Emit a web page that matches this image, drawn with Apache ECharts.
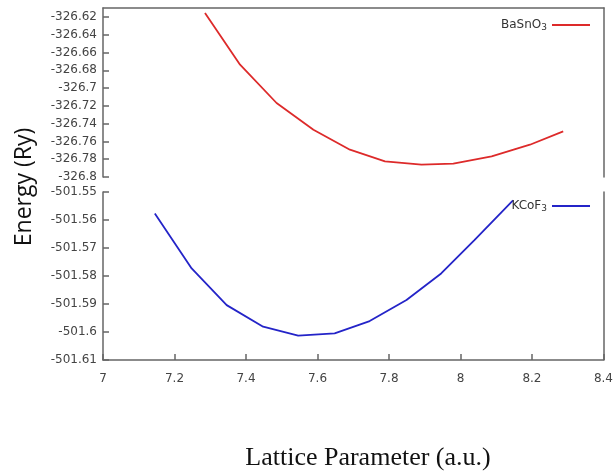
<!DOCTYPE html>
<html>
<head>
<meta charset="utf-8">
<script src="https://cdn.jsdelivr.net/npm/echarts@6/dist/echarts.min.js"></script>
<style>
  html, body { margin: 0; padding: 0; background: #fff; }
  #chart { width: 616px; height: 473px; }
</style>
</head>
<body>
<div id="chart"></div>
<script>
// data
const latticeBa = [7.285, 7.383, 7.485, 7.588, 7.690, 7.788, 7.890, 7.979, 8.086, 8.193, 8.286];
const energyBa = [-326.6155, -326.6737, -326.7168, -326.7468, -326.7693, -326.7825, -326.7862, -326.7850, -326.7768, -326.7637, -326.7487];
const latticeK = [7.145, 7.248, 7.346, 7.448, 7.546, 7.648, 7.746, 7.849, 7.946, 8.039, 8.147];
const energyK = [-501.5577, -501.5773, -501.5904, -501.5981, -501.6013, -501.6005, -501.5961, -501.5886, -501.5791, -501.5672, -501.5530];

// axis ranges
const xRange = [7, 8.4, 0.2];
const yTopRange = [-326.8, -326.61, 0.02];
const yBottomRange = [-501.61, -501.55, 0.01];

const chart = echarts.init(document.getElementById('chart'), null, { renderer: 'canvas' });

const labelFont = { color: '#444', fontFamily: 'DejaVu Sans', fontSize: 12 };
const frameLine = { show: true, lineStyle: { color: '#666', width: 1.5 } };
const tickStyle = { inside: true, length: 6, lineStyle: { color: '#666', width: 1.5 } };

// a line series fed from two arrays
function pairs(xs, ys) {
  return xs.map((x, i) => [x, ys[i]]);
}

function legendFor(name, base, top) {
  return {
    data: [name], right: 26, top: top, align: 'right', padding: 0,
    icon: 'rect', itemWidth: 38, itemHeight: 2,
    formatter: () => '{a|' + base + '}{b|3}',
    textStyle: {
      rich: {
        a: { fontFamily: 'DejaVu Sans', fontSize: 12, color: '#333' },
        b: { fontFamily: 'DejaVu Sans', fontSize: 9, color: '#333', padding: [6, 0, 0, 0] }
      }
    }
  };
}

const option = {
  animation: false,
  backgroundColor: '#fff',
  grid: [
    { left: 103, right: 12, top: 8, height: 169 },
    { left: 103, right: 12, top: 192, height: 168 }
  ],
  xAxis: [
    {
      gridIndex: 0, type: 'value', position: 'top',
      min: xRange[0], max: xRange[1], interval: xRange[2],
      axisLine: frameLine, axisTick: { show: false }, axisLabel: { show: false },
      splitLine: { show: false }
    },
    {
      gridIndex: 1, type: 'value',
      min: xRange[0], max: xRange[1], interval: xRange[2],
      axisLine: frameLine, axisTick: tickStyle,
      axisLabel: Object.assign({ margin: 13 }, labelFont),
      splitLine: { show: false }
    }
  ],
  yAxis: [
    {
      gridIndex: 0, type: 'value',
      min: yTopRange[0], max: yTopRange[1], interval: yTopRange[2],
      axisLine: frameLine, axisTick: tickStyle,
      axisLabel: Object.assign({ margin: 6, showMaxLabel: false }, labelFont),
      splitLine: { show: false }
    },
    {
      gridIndex: 1, type: 'value',
      min: yBottomRange[0], max: yBottomRange[1], interval: yBottomRange[2],
      axisLine: frameLine, axisTick: tickStyle,
      axisLabel: Object.assign({ margin: 6 }, labelFont),
      splitLine: { show: false }
    },
    // right-hand frame lines
    {
      gridIndex: 0, type: 'value', position: 'right',
      min: yTopRange[0], max: yTopRange[1],
      axisLine: frameLine, axisTick: { show: false }, axisLabel: { show: false },
      splitLine: { show: false }
    },
    {
      gridIndex: 1, type: 'value', position: 'right',
      min: yBottomRange[0], max: yBottomRange[1],
      axisLine: frameLine, axisTick: { show: false }, axisLabel: { show: false },
      splitLine: { show: false }
    }
  ],
  legend: [
    legendFor('BaSnO3', 'BaSnO', 19),
    legendFor('KCoF3', 'KCoF', 200)
  ],
  series: [
    {
      name: 'BaSnO3', type: 'line', xAxisIndex: 0, yAxisIndex: 0,
      data: pairs(latticeBa, energyBa), showSymbol: false,
      lineStyle: { color: '#dd2a2a', width: 1.8 }, itemStyle: { color: '#dd2a2a' }
    },
    {
      name: 'KCoF3', type: 'line', xAxisIndex: 1, yAxisIndex: 1,
      data: pairs(latticeK, energyK), showSymbol: false,
      lineStyle: { color: '#2424c8', width: 1.8 }, itemStyle: { color: '#2424c8' }
    }
  ],
  graphic: [
    {
      type: 'text', x: 24, y: 187, rotation: Math.PI / 2,
      style: {
        text: 'Energy (Ry)', fill: '#111', fontFamily: 'Open Sans', fontSize: 23,
        textAlign: 'center', textVerticalAlign: 'middle'
      }
    },
    {
      type: 'text', x: 368, y: 458,
      style: {
        text: 'Lattice Parameter (a.u.)', fill: '#111', fontFamily: 'Liberation Serif', fontSize: 26,
        textAlign: 'center', textVerticalAlign: 'middle'
      }
    }
  ]
};

chart.setOption(option);
</script>
</body>
</html>
